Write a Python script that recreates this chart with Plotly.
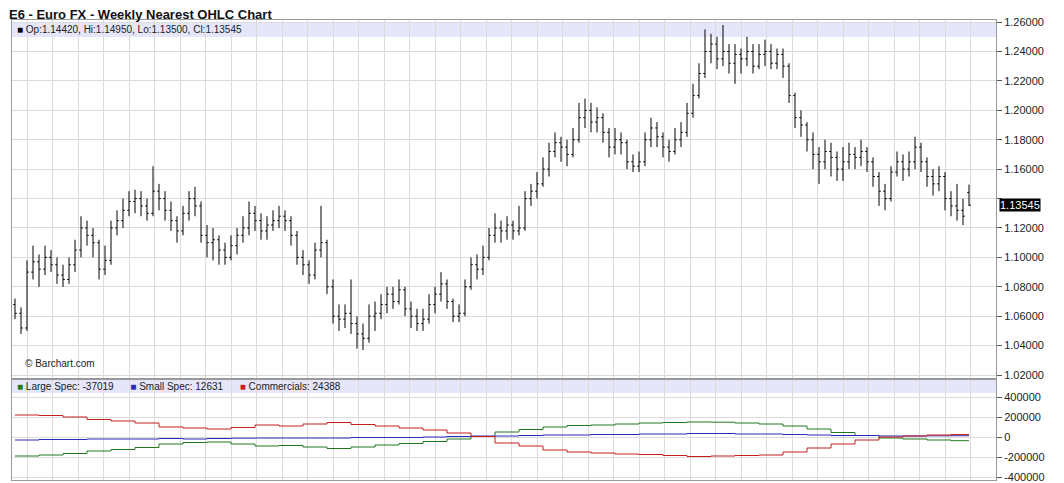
import plotly.graph_objects as go

closes = [1.062,1.052,1.090,1.097,1.092,1.100,1.095,1.088,1.085,1.095,1.105,1.120,1.115,1.110,1.092,1.098,1.120,1.125,1.132,1.138,
1.140,1.135,1.130,1.145,1.140,1.132,1.125,1.118,1.130,1.140,1.135,1.115,1.110,1.112,1.105,1.100,1.108,1.115,1.120,1.130,
1.125,1.118,1.122,1.125,1.128,1.125,1.115,1.100,1.095,1.088,1.105,1.110,1.080,1.060,1.058,1.062,1.055,1.048,1.045,1.060,
1.062,1.068,1.075,1.070,1.078,1.065,1.060,1.055,1.058,1.068,1.075,1.082,1.070,1.060,1.062,1.080,1.095,1.092,1.100,1.115,
1.120,1.118,1.122,1.118,1.120,1.140,1.145,1.150,1.160,1.172,1.178,1.175,1.170,1.180,1.195,1.200,1.192,1.195,1.185,1.175,
1.180,1.178,1.165,1.162,1.165,1.180,1.188,1.182,1.175,1.172,1.180,1.185,1.198,1.210,1.225,1.240,1.245,1.235,1.240,1.232,
1.238,1.235,1.240,1.230,1.238,1.240,1.232,1.238,1.230,1.210,1.195,1.190,1.180,1.170,1.165,1.172,1.168,1.160,1.165,1.170,
1.168,1.172,1.165,1.155,1.145,1.140,1.158,1.165,1.160,1.165,1.175,1.165,1.155,1.150,1.155,1.140,1.135,1.132,1.128,1.13545]
opens = [1.068,1.062,1.052,1.090,1.097,1.092,1.100,1.095,1.088,1.085,1.095,1.105,1.120,1.115,1.110,1.092,1.098,1.120,1.125,1.132,
1.138,1.140,1.135,1.130,1.145,1.140,1.132,1.125,1.118,1.130,1.140,1.135,1.115,1.110,1.112,1.105,1.100,1.108,1.115,1.120,
1.130,1.125,1.118,1.122,1.125,1.128,1.125,1.115,1.100,1.095,1.088,1.105,1.110,1.080,1.060,1.058,1.062,1.055,1.048,1.045,
1.060,1.062,1.068,1.075,1.070,1.078,1.065,1.060,1.055,1.058,1.068,1.075,1.082,1.070,1.060,1.062,1.080,1.095,1.092,1.100,
1.115,1.120,1.118,1.122,1.118,1.120,1.140,1.145,1.150,1.160,1.172,1.178,1.175,1.170,1.180,1.195,1.200,1.192,1.195,1.185,
1.175,1.180,1.178,1.165,1.162,1.165,1.180,1.188,1.182,1.175,1.172,1.180,1.185,1.198,1.210,1.225,1.240,1.245,1.235,1.240,
1.232,1.238,1.235,1.240,1.230,1.238,1.240,1.232,1.238,1.230,1.210,1.195,1.190,1.180,1.170,1.165,1.172,1.168,1.160,1.165,
1.170,1.168,1.172,1.165,1.155,1.145,1.140,1.158,1.165,1.160,1.165,1.175,1.165,1.155,1.150,1.155,1.140,1.135,1.132,1.1442]
highs = [1.072,1.066,1.098,1.108,1.102,1.108,1.105,1.100,1.095,1.100,1.112,1.128,1.125,1.120,1.112,1.108,1.125,1.132,1.140,1.145,
1.146,1.145,1.140,1.162,1.150,1.145,1.138,1.128,1.135,1.145,1.148,1.138,1.122,1.120,1.115,1.110,1.115,1.120,1.128,1.138,
1.135,1.130,1.128,1.132,1.135,1.132,1.128,1.118,1.105,1.098,1.110,1.135,1.112,1.085,1.068,1.068,1.085,1.060,1.055,1.068,
1.070,1.075,1.080,1.080,1.085,1.080,1.070,1.065,1.065,1.075,1.080,1.090,1.085,1.072,1.068,1.085,1.100,1.102,1.108,1.120,
1.130,1.125,1.128,1.125,1.135,1.145,1.150,1.158,1.168,1.178,1.185,1.182,1.180,1.188,1.205,1.208,1.205,1.202,1.198,1.188,
1.188,1.185,1.180,1.170,1.172,1.185,1.195,1.192,1.185,1.180,1.188,1.192,1.205,1.218,1.232,1.255,1.252,1.250,1.258,1.245,
1.245,1.242,1.250,1.245,1.245,1.248,1.245,1.242,1.242,1.232,1.212,1.200,1.192,1.185,1.175,1.180,1.178,1.172,1.175,1.178,
1.175,1.180,1.175,1.168,1.158,1.150,1.162,1.172,1.170,1.172,1.182,1.178,1.168,1.160,1.162,1.158,1.145,1.150,1.140,1.1495]
lows = [1.058,1.048,1.050,1.085,1.080,1.088,1.090,1.082,1.080,1.082,1.090,1.100,1.108,1.100,1.085,1.088,1.095,1.115,1.120,1.128,
1.130,1.128,1.125,1.128,1.132,1.125,1.118,1.110,1.115,1.125,1.128,1.110,1.100,1.098,1.095,1.095,1.098,1.102,1.110,1.115,
1.118,1.112,1.112,1.118,1.120,1.118,1.108,1.095,1.088,1.082,1.085,1.100,1.075,1.055,1.050,1.052,1.048,1.038,1.037,1.042,
1.050,1.058,1.062,1.065,1.068,1.060,1.052,1.050,1.050,1.055,1.062,1.070,1.065,1.056,1.056,1.060,1.078,1.085,1.088,1.098,
1.110,1.110,1.112,1.112,1.115,1.118,1.135,1.140,1.148,1.155,1.168,1.165,1.162,1.168,1.178,1.188,1.185,1.185,1.178,1.168,
1.170,1.170,1.160,1.158,1.158,1.162,1.175,1.175,1.168,1.165,1.170,1.175,1.182,1.195,1.208,1.222,1.232,1.228,1.230,1.225,
1.218,1.225,1.230,1.225,1.228,1.230,1.228,1.228,1.222,1.205,1.188,1.182,1.172,1.160,1.150,1.160,1.155,1.152,1.152,1.160,
1.160,1.162,1.158,1.148,1.135,1.132,1.138,1.155,1.152,1.155,1.160,1.158,1.148,1.142,1.145,1.132,1.128,1.125,1.122,1.135]

cot_weeks = [0,4,8,12,16,20,24,28,32,36,40,44,48,52,56,60,64,68,72,76,80,84,88,92,96,100,104,108,112,116,120,124,128,132,136,140,144,148,152,156,159]
commercials = [220000,215000,200000,175000,160000,140000,100000,90000,80000,95000,120000,110000,130000,145000,125000,110000,90000,70000,40000,5000,
-60000,-90000,-130000,-150000,-160000,-170000,-175000,-185000,-195000,-190000,-185000,-180000,-150000,-110000,-70000,-30000,0,10000,20000,24388,24388]
large_spec = [-190000,-180000,-165000,-140000,-125000,-105000,-70000,-55000,-50000,-70000,-90000,-85000,-100000,-115000,-100000,-80000,-65000,-45000,-20000,5000,
50000,75000,100000,115000,120000,130000,140000,145000,150000,148000,140000,130000,110000,80000,45000,15000,-10000,-20000,-30000,-37019,-37019]
small_spec = [-30000,-25000,-25000,-20000,-20000,-20000,-15000,-20000,-15000,-12000,-10000,-10000,-10000,-10000,-5000,-5000,-5000,0,5000,10000,
10000,15000,20000,20000,25000,25000,30000,30000,35000,35000,30000,30000,25000,20000,15000,15000,10000,10000,12000,12631,12631]

price_ticks = [1.02,1.04,1.06,1.08,1.10,1.12,1.14,1.16,1.18,1.20,1.22,1.24,1.26]
cot_ticks = [-400000,-200000,0,200000,400000]

OFF = 8  # page offset of the figure inside the browser window
H = 483 - OFF
T, B = 20 - OFF, 3
PH = H - T - B
def py(ypix):  # window y pixel -> paper fraction
    return (H - B - (ypix - OFF)) / PH

x = list(range(len(closes)))
fig = go.Figure()
fig.add_trace(go.Ohlc(x=x, open=opens, high=highs, low=lows, close=closes,
    increasing=dict(line=dict(color="black", width=1)), decreasing=dict(line=dict(color="black", width=1)),
    tickwidth=0.3, xaxis="x", yaxis="y", showlegend=False, hoverinfo="skip"))
for name, vals, col in [("Large Spec", large_spec, "#1f7a1f"), ("Small Spec", small_spec, "#2a2ab8"), ("Commercials", commercials, "#c81e1e")]:
    fig.add_trace(go.Scatter(x=cot_weeks, y=vals, mode="lines", line=dict(color=col, width=1, shape="hv"),
        xaxis="x2", yaxis="y2", showlegend=False, hoverinfo="skip"))

ax_common = dict(range=[-0.5, 163.5], showgrid=True, gridcolor="#dcdcdc", tick0=2, dtick=4.25,
                 showticklabels=False, ticks="", zeroline=False, showline=True, linecolor="#999", mirror=True,
                 rangeslider=dict(visible=False))
fig.update_layout(
    width=1064 - OFF, height=H, paper_bgcolor="white", plot_bgcolor="white",
    margin=dict(l=12 - OFF, r=68, t=T, b=B, autoexpand=False),
    font=dict(family="Liberation Sans, Arial", size=11, color="#222"),
    xaxis=dict(**ax_common, domain=[0, 1], anchor="y"),
    xaxis2=dict(**ax_common, domain=[0, 1], anchor="y2"),
    yaxis=dict(domain=[py(378), 1], range=[1.0180, 1.2614], side="right", tickvals=price_ticks,
               ticktext=["" if v == 1.14 else f"{v:.5f}" for v in price_ticks], showgrid=True, gridcolor="#dcdcdc",
               ticks="outside", ticklen=5, tickcolor="#555", zeroline=False, showline=True, linecolor="#999", mirror=True,
               tickfont=dict(size=11)),
    yaxis2=dict(domain=[0, py(380)], range=[-430000, 570000], side="right", tickvals=cot_ticks,
                ticktext=[str(v) for v in cot_ticks], showgrid=True, gridcolor="#dcdcdc",
                ticks="outside", ticklen=5, tickcolor="#555", zeroline=False, showline=True, linecolor="#999", mirror=True,
                tickfont=dict(size=11)),
)
fig.add_shape(type="rect", xref="paper", yref="paper", x0=0, x1=1, y0=py(37), y1=py(22),
              fillcolor="#e6e6fa", line=dict(width=0), layer="below")
fig.add_shape(type="rect", xref="paper", yref="paper", x0=0, x1=1, y0=py(393), y1=py(380),
              fillcolor="#e6e6fa", line=dict(width=0), layer="below")
fig.add_annotation(text="<b>E6 - Euro FX - Weekly Nearest OHLC Chart</b>", xref="paper", yref="paper",
                   x=-0.004, y=py(OFF), yanchor="top", xanchor="left", showarrow=False, font=dict(size=13, color="#111"),
                   borderpad=0, yshift=2)
fig.add_annotation(text="<span style='color:black'>■</span> Op:1.14420, Hi:1.14950, Lo:1.13500, Cl:1.13545",
                   xref="paper", yref="paper", x=0.003, y=py(30), xanchor="left", yanchor="middle",
                   showarrow=False, font=dict(size=10))
fig.add_annotation(text="<span style='color:#1f7a1f'>■</span> Large Spec: -37019      <span style='color:#2a2ab8'>■</span> Small Spec: 12631      <span style='color:#c81e1e'>■</span> Commercials: 24388",
                   xref="paper", yref="paper", x=0.003, y=py(386), xanchor="left", yanchor="middle",
                   showarrow=False, font=dict(size=10))
fig.add_annotation(text="© Barchart.com", xref="paper", yref="paper", x=0.011, y=py(363),
                   xanchor="left", yanchor="middle", showarrow=False, font=dict(size=10))
fig.add_annotation(text="1.13545", xref="paper", yref="y", x=1.0, y=closes[-1], xanchor="left", xshift=3,
                   showarrow=False, bgcolor="black", font=dict(color="white", size=11), borderpad=0)
fig.write_html("out.html")
